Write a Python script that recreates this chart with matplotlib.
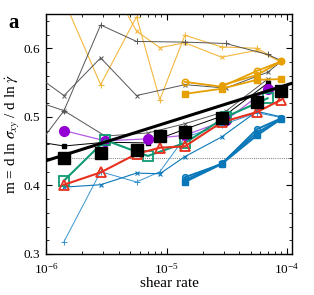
import matplotlib
matplotlib.use("Agg")
import matplotlib.pyplot as plt
from matplotlib.ticker import LogLocator, MultipleLocator, NullFormatter

plt.rcParams['font.family'] = ['Liberation Serif', 'DejaVu Serif']
plt.rcParams['mathtext.fontset'] = 'stix'

# ---------------- data ----------------
# common rate columns
r8 = [1.41e-6, 2.84e-6, 5.64e-6, 8.8e-6, 1.42e-5, 2.86e-5, 5.63e-5, 8.97e-5]
r6 = [1.41e-6, 3.1e-6, 7.0e-6, 1.42e-5, 3.1e-5, 6.9e-5]

# fit line (thick black)
fit_rate = [1.0e-6, 1.1e-4]
fit_m = [0.436, 0.549]

# big black squares
black_rate = r8
black_m = [0.440, 0.447, 0.452, 0.4715, 0.478, 0.498, 0.521, 0.537]

# thin gray series
grayA_rate = [7e-7, 1.41e-6, 2.84e-6, 5.64e-6, 1.42e-5, 3.1e-5, 6.9e-5, 8.97e-5]
grayA_m = [0.570, 0.531, 0.586, 0.531, 0.547, 0.542, 0.565, 0.581]
grayB_rate = [7e-7, 1.41e-6, 2.84e-6, 5.64e-6, 1.42e-5, 3.1e-5, 6.9e-5, 8.97e-5]
grayB_m = [0.527, 0.509, 0.634, 0.610, 0.609, 0.607, 0.591, 0.582]
grayC_rate = [7e-7, 1.41e-6, 3.1e-6, 7.0e-6, 1.42e-5, 3.1e-5, 6.9e-5]
grayC_m = [0.438, 0.509, 0.472, 0.4765, 0.490, 0.508, 0.555]
grayD_rate = [7e-7, 1.41e-6, 3.1e-6, 7.0e-6, 1.42e-5, 3.1e-5, 6.9e-5]
grayD_m = [0.466, 0.4575, 0.463, 0.462, 0.482, 0.503, 0.549]

# orange series
oraA_rate = r8
oraA_m = [0.670, 0.547, 0.646, 0.525, 0.619, 0.602, 0.600, 0.580]
oraB_rate = [2.84e-6, 5.64e-6, 8.8e-6, 1.42e-5, 2.86e-5, 5.63e-5, 8.97e-5]
oraB_m = [0.720, 0.625, 0.601, 0.608, 0.587, 0.597, 0.580]
oraC_rate = [1.42e-5, 2.86e-5, 5.63e-5, 8.97e-5]
oraC_m = [0.551, 0.544, 0.567, 0.581]
oraD_rate = [2.86e-5, 5.63e-5, 8.97e-5]
oraD_m = [0.546, 0.561, 0.581]
oraE_rate = [1.42e-5, 2.86e-5, 5.63e-5, 8.97e-5]
oraE_m = [0.5335, 0.541, 0.554, 0.555]

# blue series
bluA_rate = [1.42e-5, 2.86e-5, 5.63e-5, 8.97e-5]
bluA_m = [0.412, 0.431, 0.482, 0.498]
bluB_rate = [1.42e-5, 2.86e-5, 5.63e-5, 8.97e-5]
bluB_m = [0.405, 0.431, 0.473, 0.497]
bluC_rate = [1.42e-5, 2.86e-5, 5.63e-5, 8.97e-5]
bluC_m = [0.408, 0.432, 0.477, 0.497]
bluX_rate = r8
bluX_m = [0.3975, 0.401, 0.418, 0.417, 0.442, 0.4706, 0.508, 0.500]
bluP_rate = r8
bluP_m = [0.318, 0.420, 0.405, 0.420, 0.470, 0.488, 0.506, 0.499]

# red triangles
red_rate = r8
red_m = [0.401, 0.419, 0.446, 0.455, 0.457, 0.492, 0.507, 0.525]

# green squares
green_rate = r6
green_m = [0.407, 0.466, 0.443, 0.462, 0.500, 0.527]

# purple circles
purple_rate = r6
purple_m = [0.480, 0.465, 0.468, 0.473, 0.495, 0.541]

ref_level = 0.44

# ---------------- plot ----------------
fig = plt.figure(figsize=(3.14, 2.95), dpi=100)
ax = fig.add_axes([46/314, 41/295, 246/314, 240/295])

gray = '#555555'
ora_l = '#f3b83f'
ora = '#e69f00'
blu = '#0a78b8'
blu_l = '#3a94d0'

ax.axhline(ref_level, color='#777777', lw=0.7, ls=(0, (1, 1.2)), zorder=1)

# orange thin
ax.plot(oraA_rate, oraA_m, color=ora_l, lw=0.8, marker='+', ms=4, mew=0.8, zorder=2)
ax.plot(oraB_rate, oraB_m, color=ora_l, lw=0.8, marker='x', ms=3.5, mew=0.8, zorder=2)
# gray thin
ax.plot(grayA_rate, grayA_m, color=gray, lw=0.7, marker='x', ms=3.5, mew=0.7, zorder=3)
ax.plot(grayB_rate, grayB_m, color=gray, lw=0.7, marker='+', ms=4, mew=0.7, zorder=3)
ax.plot(grayC_rate, grayC_m, color=gray, lw=0.7, marker='x', ms=3.5, mew=0.7, zorder=3)
ax.plot(grayD_rate, grayD_m, color='black', lw=0.7, marker='s', ms=3.2, zorder=3)
# orange thick
ax.plot(oraC_rate, oraC_m, color=ora, lw=1.3, marker='o', ms=4.5, mfc='none', mew=1.2, zorder=4)
ax.plot(oraD_rate, oraD_m, color=ora, lw=1.3, marker='o', ms=4, zorder=4)
ax.plot(oraE_rate, oraE_m, color=ora, lw=1.3, marker='s', ms=4, zorder=4)
# blue thin
ax.plot(bluP_rate, bluP_m, color=blu_l, lw=0.7, marker='+', ms=4, mew=0.7, zorder=3)
ax.plot(bluX_rate, bluX_m, color=blu, lw=0.8, marker='x', ms=3.5, mew=0.8, zorder=3)
# blue thick
ax.plot(bluA_rate, bluA_m, color=blu, lw=1.4, marker='o', ms=4, mfc='none', mew=1.2, zorder=4)
ax.plot(bluB_rate, bluB_m, color=blu, lw=1.4, marker='s', ms=4, zorder=4)
ax.plot(bluC_rate, bluC_m, color=blu, lw=1.4, marker='o', ms=4, zorder=4)
# purple
ax.plot(purple_rate, purple_m, color='#b45ae6', lw=0.9, marker='o', ms=7,
        mfc='#9400d3', mec='#9400d3', zorder=5)
# green
ax.plot(green_rate, green_m, color='#0f9a74', lw=1.5, marker='s', ms=7,
        mfc='none', mew=1.3, zorder=6)
# red
ax.plot(red_rate, red_m, color='#e8301e', lw=1.5, marker='^', ms=7,
        mfc='none', mew=1.3, zorder=7)
# fit line and black squares
ax.plot(fit_rate, fit_m, color='black', lw=2.2, zorder=8)
ax.plot(black_rate, black_m, ls='none', marker='s', ms=8, color='black', zorder=9)

ax.set_xscale('log')
ax.set_xlim(1e-6, 1.1e-4)
ax.set_ylim(0.3, 0.65)
ax.yaxis.set_major_locator(MultipleLocator(0.1))
ax.yaxis.set_minor_locator(MultipleLocator(0.02))
ax.xaxis.set_major_locator(LogLocator(base=10, numticks=10))
ax.xaxis.set_minor_locator(LogLocator(base=10, subs=range(2, 10), numticks=20))
ax.xaxis.set_minor_formatter(NullFormatter())
ax.tick_params(which='both', direction='in', top=True, right=True, labelsize=9.5)
ax.tick_params(axis='x', which='major', pad=6)
ax.tick_params(axis='y', which='major', pad=4)
ax.tick_params(which='major', length=4.5, width=0.8)
ax.tick_params(which='minor', length=2.5, width=0.6)
for s in ax.spines.values():
    s.set_linewidth(1.0)

ax.set_xlabel('shear rate', fontsize=11, labelpad=0)
ax.set_ylabel(r'm = d ln $\sigma_{xy}$ / d ln $\dot{\gamma}$', fontsize=11, labelpad=1)
fig.text(8/314, 1 - 28/295, 'a', fontsize=15, fontweight='bold')

fig.savefig('out.png', dpi=100)
